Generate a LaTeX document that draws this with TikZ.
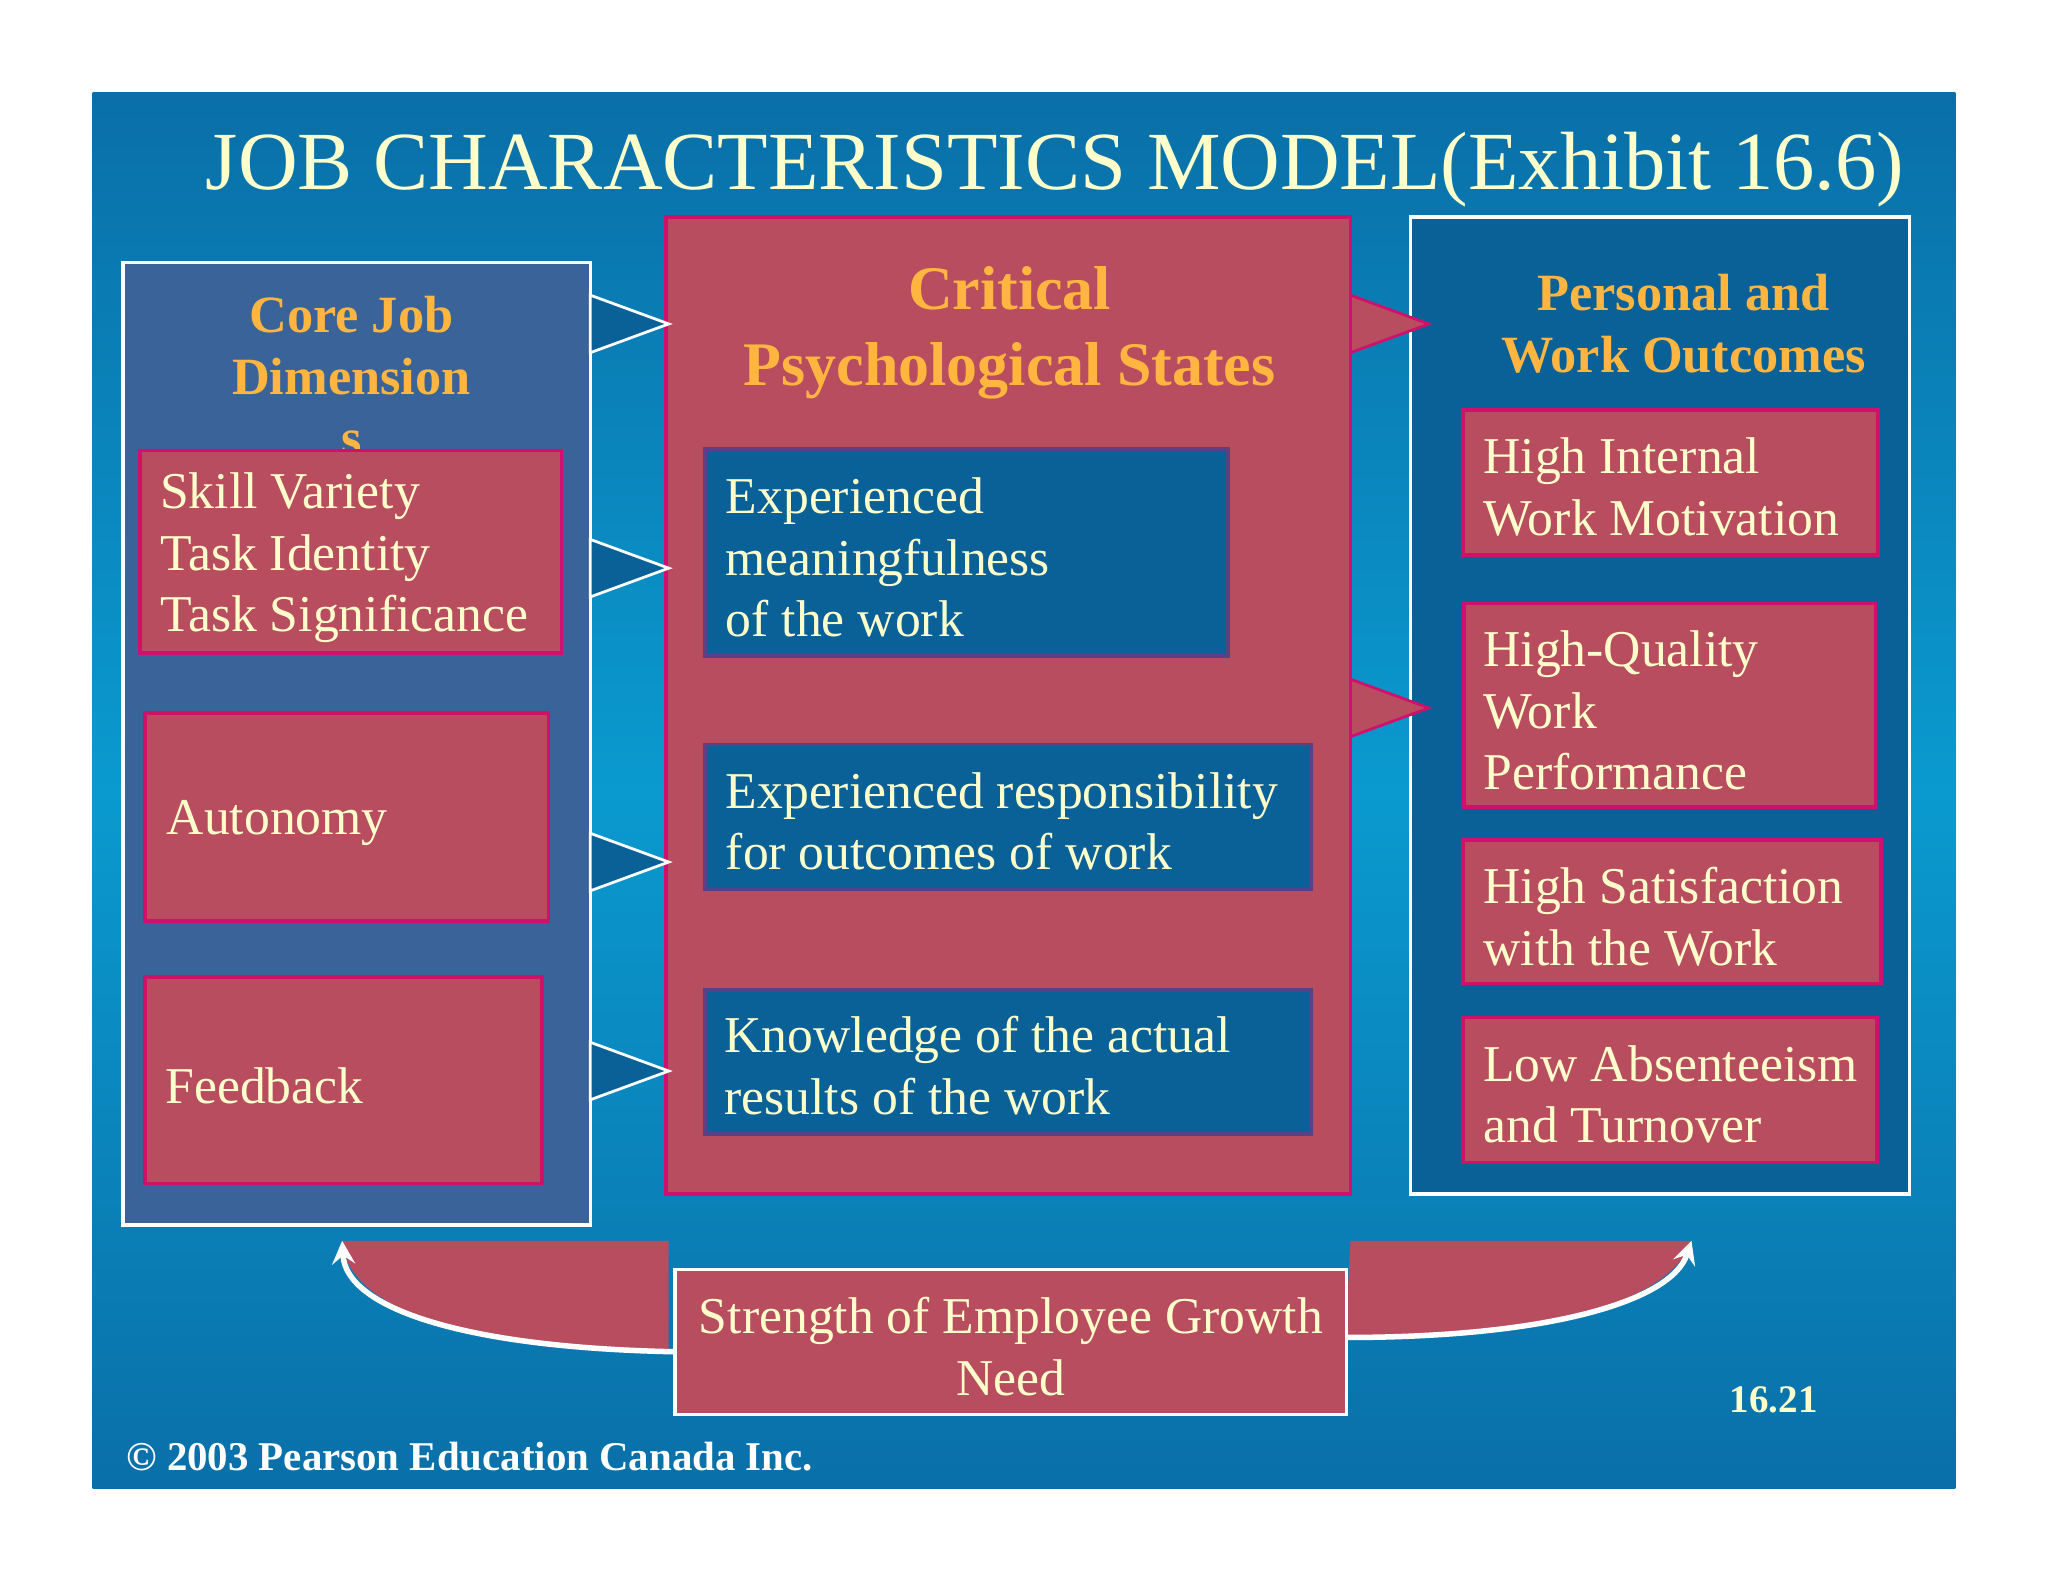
\documentclass[tikz,border=0pt]{standalone}
\usepackage{fontspec}
\setmainfont{Liberation Serif}
\begin{document}
\definecolor{bgA}{HTML}{0A6FA8}\definecolor{bgB}{HTML}{0A9ACF}
\definecolor{lpan}{HTML}{3A6499}\definecolor{rd}{HTML}{B84D60}
\definecolor{mg}{HTML}{D0106A}\definecolor{db}{HTML}{0A6198}
\definecolor{ttl}{HTML}{FFFFCC}\definecolor{org}{HTML}{FFB540}
\begin{tikzpicture}[x=0.1mm,y=-0.1mm,
 rbox/.style={fill=rd,draw=mg,line width=0.8pt},
 bbox/.style={fill=db,draw=mg!40!db,line width=0.8pt},
 body/.style={text=ttl,font=\fontsize{11.25}{13.4}\selectfont,align=left,anchor=west,inner sep=0},
 hdr/.style={text=org,font=\bfseries\fontsize{11.4}{13.4}\selectfont,align=center,inner sep=0},
 ltri/.style={fill=db,draw=white,line width=0.6pt},
 rtri/.style={fill=rd,draw=mg,line width=0.6pt}]
\useasboundingbox (0,0) rectangle (1568,1211);
\fill[white] (0,0) rectangle (1568,1211);
\shade[top color=bgA,bottom color=bgA,middle color=bgB] (71,71) rectangle (1497,1140);
\node[text=ttl,font=\fontsize{18}{22}\selectfont,anchor=west,inner sep=0] (title) at (157,130) {JOB CHARACTERISTICS MODEL(Exhibit 16.6)};
% panels
\draw[fill=lpan,draw=white,line width=0.8pt] (94,201) rectangle (452,938);
\draw[rbox] (510,166) rectangle (1034,914);
\draw[fill=db,draw=white,line width=0.8pt] (1080,166) rectangle (1462,914);
\node[hdr] (h1) at (269,288) {Core Job\\Dimension\\s};
\node[hdr,font=\bfseries\fontsize{13.5}{16.5}\selectfont] (h2) at (773,255) {Critical\\Psychological States};
\node[hdr] (h3) at (1289,248) {Personal and\\Work Outcomes};
% left boxes
\draw[rbox] (107,345) rectangle (430,500);
\node[body] (l1) at (122,427) {Skill Variety\\Task Identity\\Task Significance};
\draw[rbox] (111,546) rectangle (420,705);
\node[body] (l2) at (127,630) {Autonomy};
\draw[rbox] (111,748) rectangle (415,906);
\node[body] (l3) at (126,831) {Feedback};
% center boxes
\draw[bbox] (540,344) rectangle (940,502);
\node[body] (c1) at (555,427) {Experienced\\meaningfulness\\of the work};
\draw[bbox] (540,570) rectangle (1004,681);
\node[body] (c2) at (555,629) {Experienced responsibility\\for outcomes of work};
\draw[bbox] (540,758) rectangle (1004,868);
\node[body] (c3) at (554,816) {Knowledge of the actual\\results of the work};
% right boxes
\draw[rbox] (1120,314) rectangle (1438,425);
\node[body] (r1) at (1135,373) {High Internal\\Work Motivation};
\draw[rbox] (1121,462) rectangle (1436,618);
\node[body] (r2) at (1135,544) {High-Quality\\Work\\Performance};
\draw[rbox] (1120,643) rectangle (1440,753);
\node[body] (r3) at (1135,702) {High Satisfaction\\with the Work};
\draw[rbox] (1120,779) rectangle (1437,890);
\node[body] (r4) at (1135,838) {Low Absenteeism\\and Turnover};
% triangles
\foreach \y in {248,435,660,820}{\draw[ltri] (452,\y-22) -- (512,\y) -- (452,\y+22) -- cycle;}
\foreach \y in {248,542}{\draw[rtri] (1034,\y-22) -- (1094,\y) -- (1034,\y+22) -- cycle;}
% bottom curves
\fill[rd] (262,950) -- (512,950) -- (512,1035) .. controls (350,1032) and (265,1000) .. (262,950);
\draw[white,line width=1.2pt,-stealth] (520,1035) .. controls (350,1032) and (265,1000) .. (262,950);
\fill[rd] (1034,950) -- (1295,950) .. controls (1280,995) and (1190,1024) .. (1030,1024) -- cycle;
\draw[white,line width=1.2pt,-stealth] (1030,1024) .. controls (1190,1024) and (1280,995) .. (1295,950);
\draw[fill=rd,draw=white,line width=0.8pt] (517,972) rectangle (1031,1083);
\node[text=ttl,font=\fontsize{11.25}{13.4}\selectfont,align=center,inner sep=0] (g) at (774,1031) {Strength of Employee Growth\\Need};
\node[text=ttl,font=\bfseries\fontsize{8.5}{10}\selectfont,inner sep=0] (pg) at (1358,1072) {16.21};
\node[text=white,font=\bfseries\fontsize{8.9}{10}\selectfont,anchor=west,inner sep=0] (cp) at (96,1115) {© 2003 Pearson Education Canada Inc.};
\end{tikzpicture}
\end{document}
